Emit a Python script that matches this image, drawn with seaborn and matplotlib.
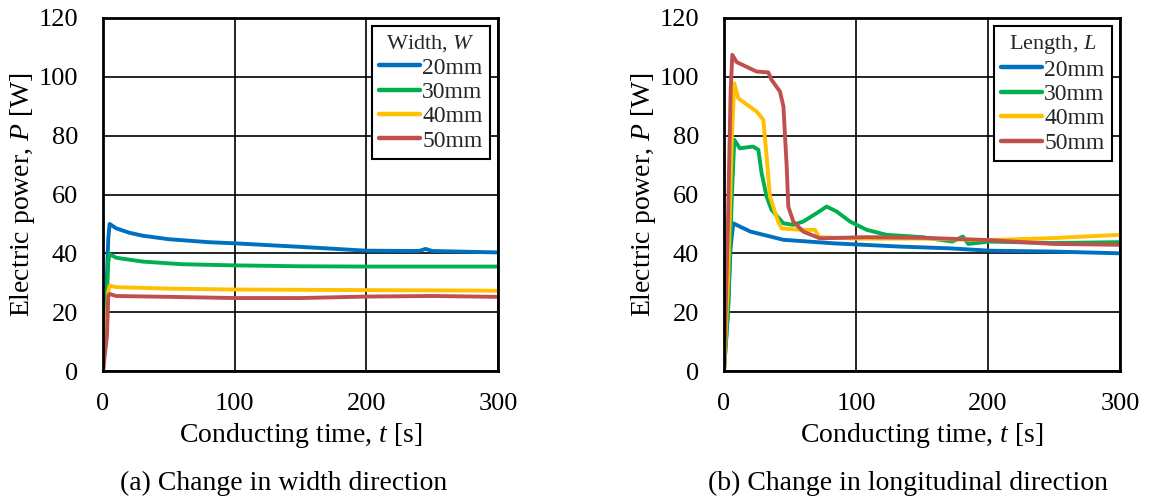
import numpy as np
import pandas as pd
import seaborn as sns
import matplotlib
matplotlib.use("Agg")
import matplotlib.pyplot as plt
from matplotlib.lines import Line2D

# ---------------- data ----------------
labels = ["20mm", "30mm", "40mm", "50mm"]
colors = ["#0070C0", "#00B050", "#FFC000", "#C0504D"]

# (a) width direction
w20_t = [0, 2, 4, 5, 10, 20, 30, 50, 80, 100, 150, 200, 240, 245, 250, 270, 300]
w20_p = [0, 20, 45, 50, 48.5, 47, 46, 44.8, 43.8, 43.4, 42.2, 40.9, 40.8, 41.5, 40.8, 40.6, 40.3]
w30_t = [0, 2, 4, 5, 10, 30, 60, 100, 150, 200, 300]
w30_p = [0, 15, 37, 39.7, 38.5, 37.2, 36.3, 35.9, 35.6, 35.5, 35.5]
w40_t = [0, 2, 4, 5, 10, 50, 100, 200, 300]
w40_p = [0, 10, 27, 29, 28.5, 28, 27.7, 27.5, 27.3]
w50_t = [0, 2, 3, 4, 5, 10, 50, 100, 150, 200, 250, 300]
w50_p = [0, 8, 12, 25.5, 26.2, 25.5, 25.2, 24.8, 24.8, 25.3, 25.5, 25.2]

# (b) longitudinal direction
l20_t = [0, 3, 5, 7, 20, 45, 83, 133, 171, 201, 250, 300]
l20_p = [0, 20, 42, 50.2, 47.4, 44.6, 43.4, 42.3, 41.7, 40.9, 40.6, 40.0]
l30_t = [0, 3, 6, 7.8, 12, 22, 26, 28.5, 32.3, 36, 45, 52.5, 60, 70, 77.8, 85.4, 95.5,
         108, 123, 150, 173, 181, 185, 201, 250, 300]
l30_p = [0, 20, 60, 78.6, 75.7, 76.3, 75.2, 67.2, 59.3, 54.8, 50.2, 49.7, 50.8, 53.6, 55.9,
         54.2, 50.8, 48, 46.3, 45.5, 44, 45.7, 43.2, 44, 43.5, 43.8]
l40_t = [0, 3, 6, 7.8, 10.8, 24.7, 29.8, 32.3, 34.8, 41, 43.7, 57.6, 68.9, 72, 100, 150,
         200, 250, 300]
l40_p = [0, 30, 80, 97.8, 92.7, 88.2, 85.4, 72.9, 59.3, 50.8, 48.5, 48, 48, 45.5, 45, 45,
         44.5, 45.2, 46.3]
l50_t = [0, 3, 5, 6.3, 9.6, 24.7, 33.6, 36, 42.4, 45, 47.5, 48.7, 52.5, 60, 72.7, 108, 150,
         200, 250, 300]
l50_p = [0, 50, 95, 107.5, 105, 101.8, 101.5, 99, 95, 90, 69.5, 55.9, 50.8, 47.4, 45.1,
         45.5, 45.3, 44.5, 43.2, 42.9]

x_ticks = [0, 100, 200, 300]
y_ticks = [0, 20, 40, 60, 80, 100, 120]

panel_a = [(w20_t, w20_p), (w30_t, w30_p), (w40_t, w40_p), (w50_t, w50_p)]
panel_b = [(l20_t, l20_p), (l30_t, l30_p), (l40_t, l40_p), (l50_t, l50_p)]


def to_frame(series):
    rows = []
    for lab, (ts, ps) in zip(labels, series):
        for t, p in zip(ts, ps):
            rows.append({"t": t, "P": p, "size": lab})
    return pd.DataFrame(rows)


# ---------------- style ----------------
sns.set_theme(style="white")
plt.rcParams["font.family"] = ["Liberation Serif", "DejaVu Serif"]
plt.rcParams["mathtext.fontset"] = "custom"
plt.rcParams["mathtext.rm"] = "Liberation Serif"
plt.rcParams["mathtext.it"] = "Liberation Serif:italic"

fig = plt.figure(figsize=(11.5, 4.99), dpi=100)
W, H = 1150, 499
axA = fig.add_axes([103 / W, 1 - 371 / H, (498 - 103) / W, (371 - 18) / H])
axB = fig.add_axes([724 / W, 1 - 371 / H, (1120 - 724) / W, (371 - 18) / H])

for ax, series, ttl in [(axA, panel_a, r"Width, $\mathit{W}$"),
                        (axB, panel_b, r"Length, $\mathit{L}$")]:
    df = to_frame(series)
    sns.lineplot(data=df, x="t", y="P", hue="size", palette=colors,
                 estimator=None, linewidth=2.8, legend=False, ax=ax)
    for ln in ax.lines:
        ln.set_solid_joinstyle("round")
        ln.set_solid_capstyle("round")
    ax.set_xlim(0, 300)
    ax.set_ylim(0, 120)
    ax.set_xticks(x_ticks)
    ax.set_yticks(y_ticks)
    ax.grid(True, color="black", linewidth=1.2)
    ax.set_axisbelow(True)
    for sp in ax.spines.values():
        sp.set_color("black")
        sp.set_linewidth(2)
        sp.set_visible(True)
    ax.tick_params(axis="both", length=0, labelsize=19, colors="black")
    ax.tick_params(axis="x", pad=16)
    ax.tick_params(axis="y", pad=18)
    ax.set_xlabel(r"Conducting time, $\mathit{t}$ [s]", fontsize=20, color="black", labelpad=4)
    ax.set_ylabel(r"Electric power, $\mathit{P}$ [W]", fontsize=20, color="black", labelpad=1)
    handles = [Line2D([0], [0], color=c, linewidth=3.2, solid_capstyle="round") for c in colors]
    leg = ax.legend(handles, labels, title=ttl, loc="upper right", fontsize=17,
                    title_fontsize=16, frameon=True, fancybox=False, edgecolor="black",
                    framealpha=1, borderaxespad=0.35, handlelength=1.75,
                    handletextpad=0.1, labelspacing=0.12, borderpad=0.3)
    leg.get_frame().set_linewidth(1.5)

fig.text(284 / W, 1 - 483 / H, "(a) Change in width direction", fontsize=20,
         ha="center", va="center", color="black")
fig.text(908 / W, 1 - 483 / H, "(b) Change in longitudinal direction", fontsize=20,
         ha="center", va="center", color="black")

fig.savefig("out.png", dpi=100)
